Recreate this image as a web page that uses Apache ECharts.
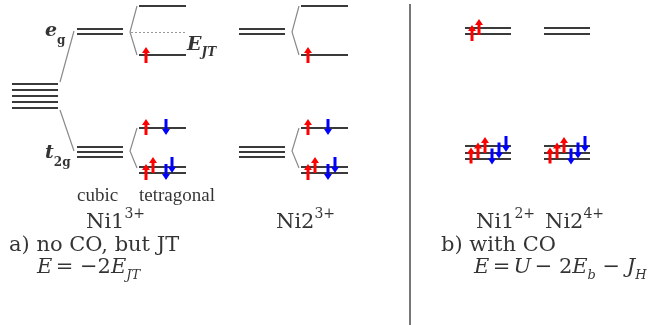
<!DOCTYPE html>
<html>
<head>
<meta charset="utf-8">
<script src="https://cdn.jsdelivr.net/npm/echarts@6/dist/echarts.min.js"></script>
<style>
html,body{margin:0;padding:0;background:#fff;}
#c{width:655px;height:325px;}
</style>
</head>
<body>
<div id="c"></div>
<script>
// ---- data (diagram units: x = horizontal position, y = energy position, top = high) ----
// degenerate d-level block (5 lines)
const dBlockX = [12, 58];
const dBlockY = [84, 90, 96, 102, 108];
// cubic columns
const cubicX = { ni1: [77, 123], ni2: [239, 285] };
const cubicEg = [29, 34];
const cubicT2g = [147, 152, 157];
// tetragonal columns
const tetraX = { ni1: [139, 186], ni2: [301, 348] };
const tetraLevels = [6, 55, 128, 167, 173];
const tetraDotted = [32];
// panel b columns
const coX = { ni1: [465, 511], ni2: [544, 590] };
const coEg = [28, 34];
const coT2g = [146, 152.5, 159];
// gray connectors (polylines)
const connectors = [
  [[60, 82], [74, 31]],
  [[60, 110], [74, 151]],
  [[137, 6], [130, 32], [137, 55]],
  [[137, 128], [130, 151], [137, 168]],
  [[299, 6], [292, 32], [299, 55]],
  [[299, 128], [292, 151], [299, 168]]
];
const divider = [[410, 4], [410, 325]];
// spin arrows [x, centre-y]
const spinUp = [
  [146, 55], [146, 127], [146, 172], [153, 165],
  [308, 55], [308, 127], [308, 172], [315, 165],
  [472, 33], [479, 27],
  [471, 155.5], [478, 150.5], [485, 145],
  [550, 155.5], [557, 150.5], [564, 145]
];
const spinDown = [
  [166, 127], [166, 172], [172, 165],
  [328, 127], [328, 172], [335, 165],
  [492, 156.5], [499, 150.5], [506, 144],
  [571, 156.5], [578, 150.5], [585, 144]
];
// text annotations [x, y, text]
const texts = [
  [45, 31, '{ei|e}{sub|g}'],
  [45, 153, '{ei|t}{sub|2g}'],
  [187, 45, '{ei|E}{subi|JT}'],
  [77, 196, '{tm|cubic}'],
  [139, 196, '{tm|tetragonal}'],
  [86, 223, '{cm|Ni1}{sup|3+}'],
  [276, 223, '{cm|Ni2}{sup|3+}'],
  [476, 223, '{cm|Ni1}{sup|2+}'],
  [545, 223, '{cm|Ni2}{sup|4+}'],
  [9, 246, '{cm|a) no CO, but JT}'],
  [37, 268, '{mi|E} {cm|= −2}{mi|E}{msub|JT}'],
  [441, 246, '{cm|b) with CO}'],
  [474, 268, '{mi|E} {cm|=} {mi|U} {cm|− 2}{mi|E}{msubb|b}{cm| − }{mi|J}{msub|H}']
];

// ---- build ----
function hlines(xr, ys) { return ys.map(y => ({ coords: [[xr[0], y], [xr[1], y]] })); }
const solidLevels = [].concat(
  hlines(dBlockX, dBlockY),
  hlines(cubicX.ni1, cubicEg), hlines(cubicX.ni1, cubicT2g),
  hlines(cubicX.ni2, cubicEg), hlines(cubicX.ni2, cubicT2g),
  hlines(tetraX.ni1, tetraLevels), hlines(tetraX.ni2, tetraLevels),
  hlines(coX.ni1, coEg), hlines(coX.ni1, coT2g),
  hlines(coX.ni2, coEg), hlines(coX.ni2, coT2g)
);
const dottedLevels = hlines([131, 187], tetraDotted);

const arrowPath = 'path://M2.5,6 L0,6 L4,0 L8,6 L5.5,6 L5.5,16 L2.5,16 Z';
const SERIF = 'DejaVu Serif';
const INK = '#000';
const rich = {
  ei: { fontFamily: SERIF, fontStyle: 'italic', fontWeight: 'bold', fontSize: 19, color: INK, lineHeight: 20 },
  sub: { fontFamily: SERIF, fontWeight: 'bold', fontSize: 12, color: INK, verticalAlign: 'bottom', lineHeight: 12, padding: [0, 0, -6, 0] },
  subi: { fontFamily: SERIF, fontStyle: 'italic', fontWeight: 'bold', fontSize: 12, color: INK, verticalAlign: 'bottom', lineHeight: 12, padding: [0, 0, -4, 0] },
  tm: { fontFamily: 'Liberation Serif', fontSize: 19, color: INK, lineHeight: 22 },
  cm: { fontFamily: SERIF, fontSize: 21, color: INK, lineHeight: 26 },
  sup: { fontFamily: SERIF, fontSize: 14, color: INK, verticalAlign: 'top', lineHeight: 14, padding: [-3, 0, 0, 0] },
  mi: { fontFamily: SERIF, fontStyle: 'italic', fontSize: 21, color: INK, lineHeight: 26 },
  msub: { fontFamily: SERIF, fontStyle: 'italic', fontSize: 13, color: INK, verticalAlign: 'bottom', lineHeight: 13, padding: [0, 0, -1, 0] },
  msubb: { fontFamily: SERIF, fontStyle: 'italic', fontSize: 13, color: INK, verticalAlign: 'bottom', lineHeight: 13, padding: [0, 0, -1, 0] }
};

const chart = echarts.init(document.getElementById('c'), null, { renderer: 'canvas' });
chart.setOption({
  animation: false,
  backgroundColor: '#fff',
  grid: { left: 0, right: 0, top: 0, bottom: 0 },
  xAxis: { type: 'value', min: 0, max: 655, show: false },
  yAxis: { type: 'value', min: 0, max: 325, inverse: true, show: false },
  series: [
    {
      type: 'lines', coordinateSystem: 'cartesian2d', polyline: true, silent: true,
      data: connectors.map(c => ({ coords: c })),
      lineStyle: { color: '#8a8a8a', width: 1.2, opacity: 1 }
    },
    {
      type: 'lines', coordinateSystem: 'cartesian2d', silent: true,
      data: [{ coords: divider }],
      lineStyle: { color: '#777', width: 2, opacity: 1 }
    },
    {
      type: 'lines', coordinateSystem: 'cartesian2d', silent: true,
      data: dottedLevels,
      lineStyle: { color: '#999', width: 1, type: [2, 2], opacity: 1 }
    },
    {
      type: 'lines', coordinateSystem: 'cartesian2d', silent: true,
      data: solidLevels,
      lineStyle: { color: '#3a3a3a', width: 2, opacity: 1 }
    },
    {
      type: 'scatter', silent: true, symbol: arrowPath, symbolSize: [8, 16],
      itemStyle: { color: '#ff0000', opacity: 1 },
      data: spinUp, z: 5
    },
    {
      type: 'scatter', silent: true, symbol: arrowPath, symbolSize: [8, 16], symbolRotate: 180,
      itemStyle: { color: '#0000ff', opacity: 1 },
      data: spinDown, z: 5
    },
    {
      type: 'scatter', silent: true, symbolSize: 0,
      data: texts.map(t => ({ value: [t[0], t[1]], txt: t[2] })),
      label: {
        show: true, position: 'right', distance: 0,
        formatter: p => p.data.txt,
        rich: rich
      }
    }
  ]
});
</script>
</body>
</html>
